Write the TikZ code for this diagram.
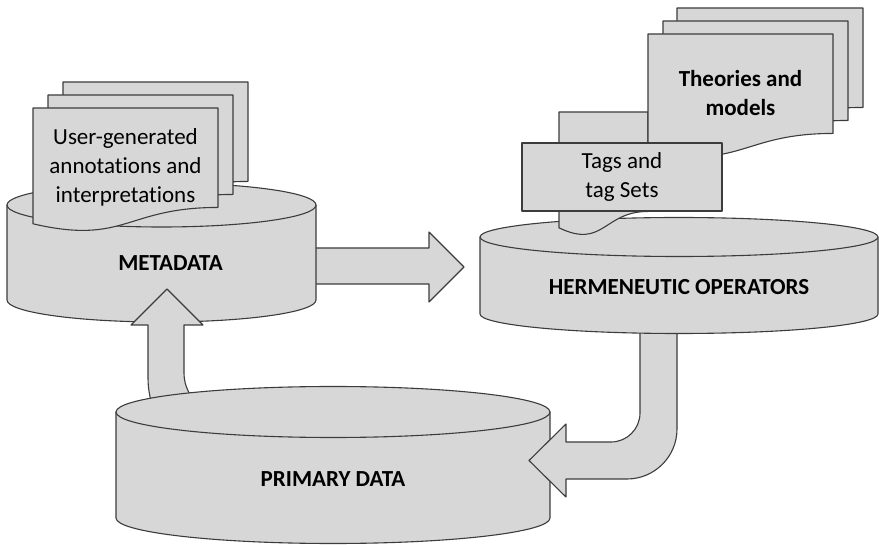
\documentclass[tikz,border=0pt]{standalone}
\usepackage{fontspec}
\setmainfont{Carlito}[Ligatures=NoCommon]
\definecolor{boxfill}{RGB}{215,215,215}
\definecolor{boxline}{RGB}{60,60,60}
\tikzset{
  shapefill/.style={fill=boxfill, draw=boxline, line width=1.1pt, line join=round},
  pagetext/.style={font=\fontsize{23}{29}\selectfont, align=center, text=black, inner sep=0pt},
  boldtext/.style={pagetext, font=\fontsize{23}{29}\selectfont\bfseries},
}
% cylinder: centre x, x radius, top y, bottom y, y radius
\newcommand\drumshape[5]{%
  \path[shapefill] ({#1-#2},#3) -- ({#1-#2},#4)
    .. controls ({#1-#2},{#4+0.5523*#5}) and ({#1-0.5523*#2},{#4+#5}) .. (#1,{#4+#5})
    .. controls ({#1+0.5523*#2},{#4+#5}) and ({#1+#2},{#4+0.5523*#5}) .. ({#1+#2},#4)
    -- ({#1+#2},#3) -- cycle;
  \path[shapefill] (#1,#3) ellipse [x radius=#2, y radius=#5];
}
% document sheet with a wavy lower edge: left x, top y, width, height
\newcommand\sheetshape[4]{%
  \path[shapefill] (#1,#2) -- ({#1+#3},#2) -- ({#1+#3},{#2+0.802*#4})
    .. controls ({#1+0.5*#3},{#2+0.802*#4}) and ({#1+0.5*#3},{#2+1.107*#4}) .. (#1,{#2+0.934*#4})
    -- cycle;
}
\begin{document}
\begin{tikzpicture}[x=1pt, y=-1pt]
\useasboundingbox (0,0) rectangle (879,545);

% arrow from the metadata store to the operators
\coordinate (flowA) at (310,248);
\path[shapefill] (flowA) -- ++(119,0) -- ++(0,-16) -- ++(35,35) -- ++(-35,35)
  -- ++(0,-18) -- ++(-119,0) -- cycle;

% metadata store with its stack of annotation sheets
\drumshape{161.5}{154.5}{205}{300}{22}
\node[boldtext] (meta) at (170.5,263) {METADATA};
\sheetshape{63}{82}{185}{124}
\sheetshape{48}{95}{185}{124}
\sheetshape{33}{108}{185}{124}
\node[pagetext] (annot) at (125.5,167) {User-generated\\annotations and\\interpretations};

% arrow rising from the primary data into the metadata
\coordinate (flowB) at (167,289);
\path[shapefill] (flowB) -- (203,325) -- (184,325) -- (184,372)
  .. controls (184,388) and (190,395) .. (200,408) -- (154,414)
  .. controls (151,400) and (148,392) .. (148,378) -- (148,325) -- (131,325) -- cycle;

% primary data store
\drumshape{333}{217}{412}{518}{25.5}
\node[boldtext] (prim) at (333,479) {PRIMARY DATA};

% arrow bending down from the operators into the primary data
\coordinate (flowC) at (529,460.5);
\path[shapefill] (640,300) -- (640,413) .. controls (640,429) and (627,442) .. (611,442)
  -- (566,442) -- (566,424) -- (flowC) -- (566,497) -- (566,479) -- (627,479)
  .. controls (654.6,479) and (677,456.6) .. (677,429) -- (677,300) -- cycle;

% hermeneutic operators store
\drumshape{679}{199}{237}{314}{19.5}
\node[boldtext] (herm) at (679,287) {HERMENEUTIC OPERATORS};

% tag sheets and theory sheets on top of the operators
\sheetshape{559}{112}{89}{124}
\sheetshape{677}{8}{186}{124}
\sheetshape{663}{21}{185}{124}
\sheetshape{648}{34}{185}{124}
\node[boldtext] (theo) at (740.5,93) {Theories and\\models};
\path[shapefill] (522,143) rectangle (722,211);
\node[pagetext] (tags) at (622,176.5) {Tags and\\tag Sets};
\end{tikzpicture}
\end{document}
